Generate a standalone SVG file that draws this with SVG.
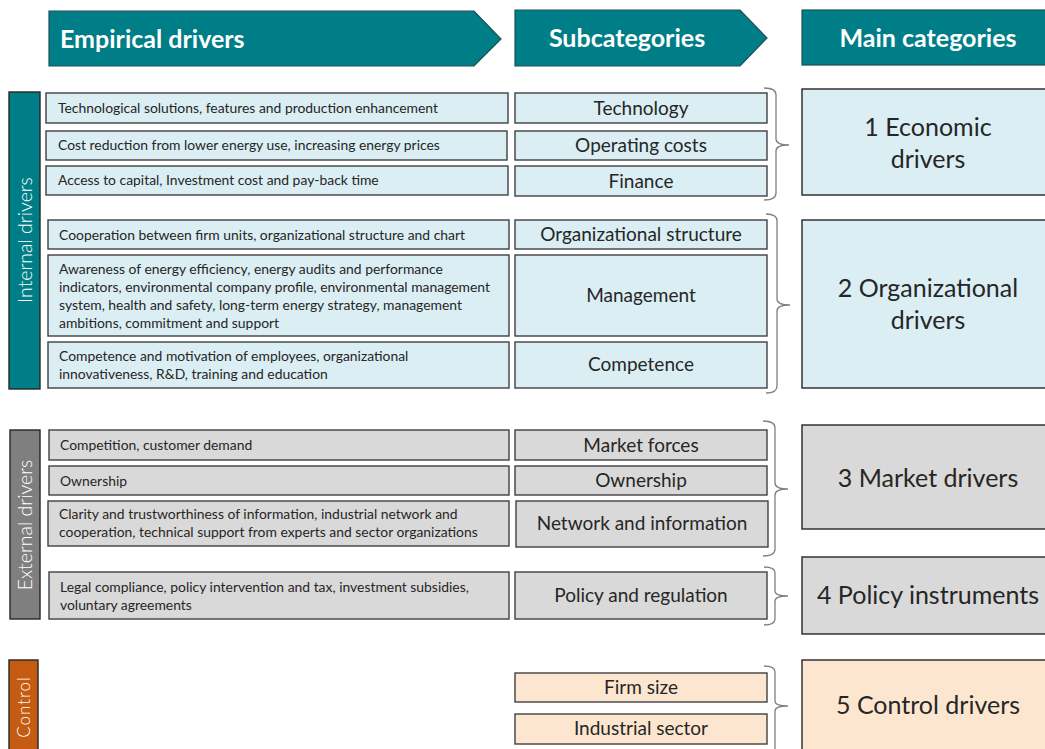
<svg xmlns="http://www.w3.org/2000/svg" width="1045" height="749" viewBox="0 0 1045 749">
<style>
.hdr{fill:#007E87;stroke:#1F4F52;stroke-width:1.2}
.htxt{font-family:Lato,"Open Sans",sans-serif;font-weight:bold;font-size:25px;fill:#fff}
.blue{fill:#DAEEF3;stroke:#404040;stroke-width:1.4}
.grey{fill:#D9D9D9;stroke:#404040;stroke-width:1.4}
.orng{fill:#FDE6CF;stroke:#404040;stroke-width:1.4}
.main{stroke:#262626}
.ltxt{font-family:Lato,"Open Sans",sans-serif;font-size:13.9px;fill:#262626}
.stxt{font-family:Lato,"Open Sans",sans-serif;font-size:19px;fill:#262626;text-anchor:middle}
.mtxt{font-family:Lato,"Open Sans",sans-serif;font-size:25px;fill:#262626;text-anchor:middle}
.vtxt{font-family:Lato,"Open Sans",sans-serif;font-weight:300;font-size:19.5px;fill:#fff;text-anchor:middle}
.brace{fill:none;stroke:#808080;stroke-width:1.3}
</style>

<g id="headers">
<g id="hdr-empirical"><path class="hdr" d="M49 11 L474 11 L501 39 L474 66 L49 66 Z"/><text class="htxt" x="60" y="48">Empirical drivers</text></g>
<g id="hdr-sub"><path class="hdr" d="M515 10 L740 10 L767 38 L740 66 L515 66 Z"/><text class="htxt" x="627" y="47" text-anchor="middle">Subcategories</text></g>
<g id="hdr-main"><rect class="hdr" x="802" y="10" width="250" height="55" stroke="#1a1a1a"/><text class="htxt" x="928" y="47" text-anchor="middle">Main categories</text></g>
</g>

<g id="side-labels">
<g id="internal"><rect x="9" y="92" width="31" height="297" fill="#007E87" stroke="#262626" stroke-width="1.4"/><text class="vtxt" transform="translate(32,240) rotate(-90)">Internal drivers</text></g>
<g id="external"><rect x="10" y="430" width="30" height="189" fill="#7F7F7F" stroke="#262626" stroke-width="1.4"/><text class="vtxt" transform="translate(32,525) rotate(-90)">External drivers</text></g>
<g id="control"><rect x="9" y="660" width="29" height="95" fill="#C55A11" stroke="#262626" stroke-width="1.4"/><text class="vtxt" style="font-size:17px;letter-spacing:1px" transform="translate(30,707) rotate(-90)">Control</text></g>
</g>

<g id="empirical">
<g id="e1"><rect class="blue" x="46" y="93" width="462" height="30"/><text class="ltxt" x="58" y="113">Technological solutions, features and production enhancement</text></g>
<g id="e2"><rect class="blue" x="46" y="131" width="461" height="29"/><text class="ltxt" x="58" y="150">Cost reduction from lower energy use, increasing energy prices</text></g>
<g id="e3"><rect class="blue" x="46" y="166" width="462" height="29"/><text class="ltxt" x="58" y="185">Access to capital, Investment cost and pay-back time</text></g>
<g id="e4"><rect class="blue" x="48" y="220" width="461" height="29"/><text class="ltxt" x="59" y="240">Cooperation between firm units, organizational structure and chart</text></g>
<g id="e5"><rect class="blue" x="48" y="255" width="461" height="81"/><text class="ltxt" x="59" y="274">Awareness of energy efficiency, energy audits and performance</text><text class="ltxt" x="59" y="292">indicators, environmental company profile, environmental management</text><text class="ltxt" x="59" y="310">system, health and safety, long-term energy strategy, management</text><text class="ltxt" x="59" y="328">ambitions, commitment and support</text></g>
<g id="e6"><rect class="blue" x="48" y="342" width="461" height="46"/><text class="ltxt" x="59" y="361">Competence and motivation of employees, organizational</text><text class="ltxt" x="59" y="379">innovativeness, R&amp;D, training and education</text></g>
<g id="e7"><rect class="grey" x="49" y="430" width="460" height="30"/><text class="ltxt" x="60" y="450">Competition, customer demand</text></g>
<g id="e8"><rect class="grey" x="49" y="466" width="460" height="29"/><text class="ltxt" x="60" y="486">Ownership</text></g>
<g id="e9"><rect class="grey" x="48" y="501" width="461" height="45"/><text class="ltxt" x="59" y="519">Clarity and trustworthiness of information, industrial network and</text><text class="ltxt" x="59" y="537">cooperation, technical support from experts and sector organizations</text></g>
<g id="e10"><rect class="grey" x="49" y="572" width="460" height="47"/><text class="ltxt" x="60" y="592">Legal compliance, policy intervention and tax, investment subsidies,</text><text class="ltxt" x="60" y="610">voluntary agreements</text></g>
</g>

<g id="subcategories">
<g id="s1"><rect class="blue" x="515" y="93" width="252" height="30"/><text class="stxt" x="641" y="115">Technology</text></g>
<g id="s2"><rect class="blue" x="515" y="131" width="252" height="29"/><text class="stxt" x="641" y="152">Operating costs</text></g>
<g id="s3"><rect class="blue" x="515" y="166" width="252" height="30"/><text class="stxt" x="641" y="188">Finance</text></g>
<g id="s4"><rect class="blue" x="515" y="220" width="252" height="29"/><text class="stxt" x="641" y="241">Organizational structure</text></g>
<g id="s5"><rect class="blue" x="515" y="255" width="252" height="81"/><text class="stxt" x="641" y="302">Management</text></g>
<g id="s6"><rect class="blue" x="515" y="342" width="252" height="46"/><text class="stxt" x="641" y="371">Competence</text></g>
<g id="s7"><rect class="grey" x="515" y="430" width="252" height="30"/><text class="stxt" x="641" y="452">Market forces</text></g>
<g id="s8"><rect class="grey" x="515" y="466" width="252" height="29"/><text class="stxt" x="641" y="487">Ownership</text></g>
<g id="s9"><rect class="grey" x="516" y="501" width="252" height="46"/><text class="stxt" x="642" y="530">Network and information</text></g>
<g id="s10"><rect class="grey" x="515" y="572" width="252" height="47"/><text class="stxt" x="641" y="602">Policy and regulation</text></g>
<g id="s11"><rect class="orng" x="515" y="673" width="252" height="29"/><text class="stxt" x="641" y="694">Firm size</text></g>
<g id="s12"><rect class="orng" x="515" y="714" width="252" height="30"/><text class="stxt" x="641" y="735">Industrial sector</text></g>
</g>

<g id="main-categories">
<g id="m1"><rect class="blue main" x="802" y="89" width="250" height="106"/><text class="mtxt" x="928" y="136">1 Economic</text><text class="mtxt" x="928" y="168">drivers</text></g>
<g id="m2"><rect class="blue main" x="802" y="220" width="250" height="168"/><text class="mtxt" x="928" y="297">2 Organizational</text><text class="mtxt" x="928" y="329">drivers</text></g>
<g id="m3"><rect class="grey main" x="802" y="425" width="250" height="104"/><text class="mtxt" x="928" y="487">3 Market drivers</text></g>
<g id="m4"><rect class="grey main" x="802" y="557" width="250" height="77"/><text class="mtxt" x="928" y="604">4 Policy instruments</text></g>
<g id="m5"><rect class="orng main" x="802" y="660" width="250" height="100"/><text class="mtxt" x="928" y="714">5 Control drivers</text></g>
</g>

<g id="connectors">
<path class="brace" d="M764 88 Q776 88 776 95 L776 139 Q776 145 789 145 Q776 145 776 151 L776 193 Q776 200 764 200"/>
<path class="brace" d="M766 214 Q777 214 777 221 L777 299 Q777 305 790 305 Q777 305 777 311 L777 386 Q777 393 766 393"/>
<path class="brace" d="M763 421 Q775 421 775 428 L775 483 Q775 489 788 489 Q775 489 775 495 L775 549 Q775 556 763 556"/>
<path class="brace" d="M764 567 Q775 567 775 573 L775 591 Q775 596 788 596 Q775 596 775 601 L775 619 Q775 625 764 625"/>
<path class="brace" d="M764 666 Q775 666 775 672 L775 701 Q775 706 788 706 Q775 706 775 711 L775 749"/>
</g>
</svg>
